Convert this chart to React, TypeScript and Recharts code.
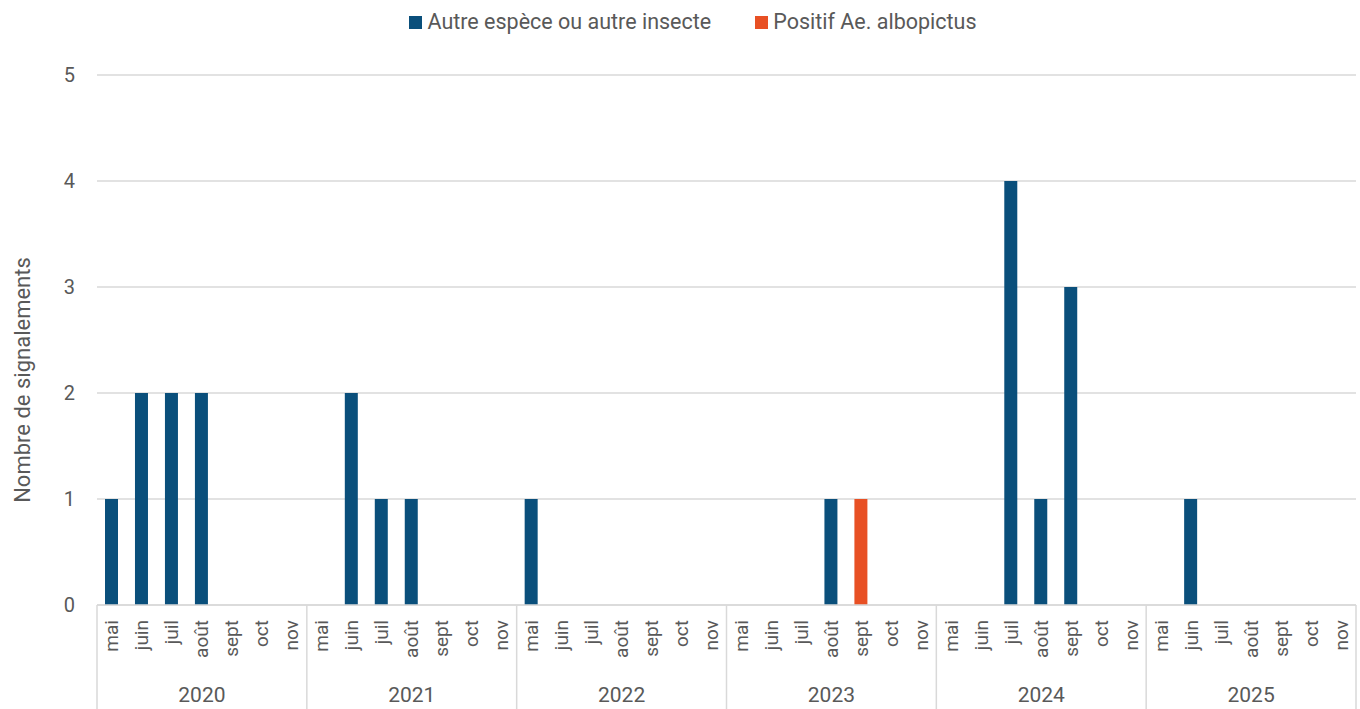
import { BarChart, Bar, XAxis, YAxis, CartesianGrid } from "recharts";

const months = ["mai", "juin", "juil", "août", "sept", "oct", "nov"];
const years = ["2020", "2021", "2022", "2023", "2024", "2025"];

// one value per month, years in order
const autreEspece = [
  1, 2, 2, 2, 0, 0, 0,
  0, 2, 1, 1, 0, 0, 0,
  1, 0, 0, 0, 0, 0, 0,
  0, 0, 0, 1, 0, 0, 0,
  0, 0, 4, 1, 3, 0, 0,
  0, 1, 0, 0, 0, 0, 0,
];
const positifAlbo = [
  0, 0, 0, 0, 0, 0, 0,
  0, 0, 0, 0, 0, 0, 0,
  0, 0, 0, 0, 0, 0, 0,
  0, 0, 0, 0, 1, 0, 0,
  0, 0, 0, 0, 0, 0, 0,
  0, 0, 0, 0, 0, 0, 0,
];
const yTicks = [0, 1, 2, 3, 4, 5];

const data = autreEspece.map((v, i) => ({
  idx: i,
  month: months[i % months.length],
  year: years[Math.floor(i / months.length)],
  autre: v,
  positif: positifAlbo[i],
}));

const W = 1360;
const H = 709;
const LEFT = 97;
const RIGHT = 4;
const AXIS_H = 104;
const BLUE = "#0a4f7b";
const ORANGE = "#e85024";
const GREY = "#595959";
const LINE = "#d9d9d9";
const FONT = "Roboto, 'Open Sans', sans-serif";

const band = (W - LEFT - RIGHT) / data.length;

function MonthTick(props: any) {
  const { x, y, payload } = props;
  const i = payload.value as number;
  const d = data[i];
  const mi = i % months.length;
  return (
    <g>
      <text
        x={x}
        y={y + 15}
        transform={`rotate(-90 ${x} ${y + 15})`}
        textAnchor="end"
        dominantBaseline="central"
        fill={GREY}
        fontSize={19}
        fontFamily={FONT}
      >
        {d.month}
      </text>
      {mi === 0 && (
        <line x1={x - band / 2} x2={x - band / 2} y1={y} y2={H} stroke={LINE} strokeWidth={1.5} />
      )}
      {i === data.length - 1 && (
        <line x1={x + band / 2} x2={x + band / 2} y1={y} y2={H} stroke={LINE} strokeWidth={1.5} />
      )}
      {mi === 3 && (
        <text
          x={x}
          y={y + 90}
          textAnchor="middle"
          dominantBaseline="central"
          fill={GREY}
          fontSize={21}
          fontFamily={FONT}
        >
          {d.year}
        </text>
      )}
    </g>
  );
}

function LegendBar() {
  const items = [
    { label: "Autre espèce ou autre insecte", color: BLUE },
    { label: "Positif Ae. albopictus", color: ORANGE },
  ];
  return (
    <div
      style={{
        position: "absolute",
        top: 8,
        left: 0,
        width: W,
        display: "flex",
        justifyContent: "center",
        gap: 44,
        fontFamily: FONT,
        fontSize: 21.5,
        lineHeight: "28px",
        color: GREY,
        paddingLeft: 26,
        boxSizing: "border-box",
      }}
    >
      {items.map((it) => (
        <div key={it.label} style={{ display: "flex", alignItems: "center" }}>
          <span
            style={{
              width: 13,
              height: 13,
              background: it.color,
              display: "inline-block",
              marginRight: 5,
            }}
          />
          <span>{it.label}</span>
        </div>
      ))}
    </div>
  );
}

function YLabel() {
  return (
    <text
      x={22}
      y={380}
      transform="rotate(-90 22 380)"
      textAnchor="middle"
      dominantBaseline="central"
      fill={GREY}
      fontSize={22}
      fontFamily={FONT}
    >
      Nombre de signalements
    </text>
  );
}

export default function App() {
  return (
    <div style={{ position: "absolute", top: 0, left: 0, width: W, height: H, background: "#fff" }}>
      <LegendBar />
      <BarChart
        width={W}
        height={H}
        data={data}
        margin={{ top: 75, right: RIGHT, bottom: 0, left: 0 }}
        barSize={13}
      >
        <CartesianGrid vertical={false} stroke={LINE} strokeWidth={1.5} />
        <XAxis
          dataKey="idx"
          type="category"
          interval={0}
          height={AXIS_H}
          tickLine={false}
          tickSize={0}
          tickMargin={0}
          axisLine={{ stroke: LINE, strokeWidth: 1.5 }}
          tick={<MonthTick />}
        />
        <YAxis
          domain={[0, 5]}
          ticks={yTicks}
          width={LEFT}
          axisLine={false}
          tickLine={false}
          tickSize={0}
          tickMargin={22}
          tick={{ fill: GREY, fontSize: 20, fontFamily: FONT }}
          label={<YLabel />}
        />
        <Bar dataKey="autre" stackId="s" fill={BLUE} isAnimationActive={false} />
        <Bar dataKey="positif" stackId="s" fill={ORANGE} isAnimationActive={false} />
      </BarChart>
    </div>
  );
}
